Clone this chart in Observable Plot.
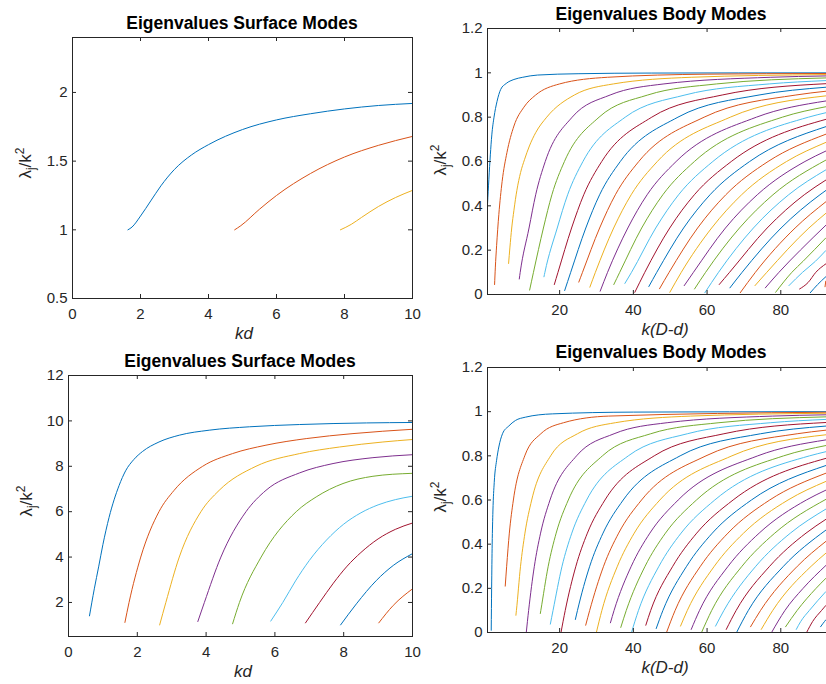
<!DOCTYPE html>
<html><head><meta charset="utf-8">
<script src="https://cdn.jsdelivr.net/npm/d3@7"></script>
<script src="https://cdn.jsdelivr.net/npm/@observablehq/plot@0.6"></script>
<style>
html,body{margin:0;padding:0;background:#fff;overflow:hidden}
#wrap{position:relative;width:826px;height:684px;overflow:hidden;background:#fff}
#wrap svg{position:absolute;left:0;top:0}
</style></head><body><div id="wrap"></div>
<script>
const colors = ["#0072BD","#D95319","#EDB120","#7E2F8E","#77AC30","#4DBEEE","#A2142F"];

const titleSurface = "Eigenvalues Surface Modes";
const titleBody = "Eigenvalues Body Modes";
const labelSurface = "kd";
const labelBody = "k(D-d)";

const surfTicksX = [0,2,4,6,8,10];
const surfTopTicksY = [0.5,1,1.5,2];
const surfBotTicksY = [2,4,6,8,10,12];
const bodyTicksX = [20,40,60,80];
const bodyTicksY = [0,0.2,0.4,0.6,0.8,1,1.2];

// top-left: surface modes (3 curves)
const surfTop = [
 [[1.63,1.0],[1.75,1.02],[2.0,1.1],[2.3,1.21],[2.6,1.32],[3.0,1.44],[3.5,1.545],[4.0,1.62],[5.0,1.73],[6.0,1.80],[7.0,1.845],[8.0,1.88],[9.0,1.905],[10.0,1.92]],
 [[4.77,1.0],[4.95,1.03],[5.5,1.15],[6.0,1.25],[7.0,1.41],[8.0,1.53],[9.0,1.615],[10.0,1.68]],
 [[7.88,1.0],[8.2,1.04],[8.5,1.09],[9.0,1.17],[9.5,1.235],[10.0,1.287]]
];

// bottom-left: surface modes (9 curves)
const surfBot = [
 [[0.61,1.41],[0.75,2.6],[0.88,3.6],[1.0,4.55],[1.18,5.75],[1.47,7.15],[1.66,7.8],[1.9,8.3],[2.15,8.65],[2.63,9.07],[3.22,9.37],[4.09,9.59],[5.26,9.74],[6.72,9.84],[8.66,9.91],[10,9.93]],
 [[1.64,1.12],[1.76,2.0],[2.10,4.0],[2.63,6.0],[3.07,6.94],[3.90,8.0],[4.77,8.56],[5.74,8.93],[6.91,9.22],[8.27,9.44],[10,9.63]],
 [[2.65,1.01],[2.83,2.0],[3.22,4.0],[3.85,6.0],[4.38,6.94],[5.45,8.0],[6.72,8.56],[7.88,8.85],[9.14,9.07],[10,9.18]],
 [[3.76,1.16],[3.95,2],[4.43,4],[5.16,6],[5.74,6.94],[6.72,7.71],[7.69,8.12],[8.85,8.38],[10,8.51]],
 [[4.77,1.06],[4.97,2],[5.60,4],[6.62,6],[7.20,6.65],[7.98,7.24],[8.85,7.56],[10,7.69]],
 [[5.88,1.18],[6.23,2.0],[6.6,2.95],[7.0,3.85],[7.5,4.75],[8.0,5.45],[8.5,5.95],[9.0,6.3],[9.5,6.53],[10,6.68]],
 [[6.89,1.10],[7.3,2.0],[7.7,2.85],[8.1,3.6],[8.5,4.2],[9.0,4.8],[9.5,5.22],[10,5.5]],
 [[7.91,1.01],[8.37,1.94],[8.95,2.97],[9.44,3.63],[10,4.15]],
 [[9.02,1.10],[9.44,1.87],[10,2.60]]
];

// top-right: body modes
const bodyTop = [
 [[0.44,0.41],[0.8,0.52],[1.2,0.63],[1.6,0.72],[2.2,0.8],[3.0,0.87],[4.0,0.925],[5.5,0.952],[7.6,0.97],[10,0.98],[14,0.99],[25,0.996],[45,0.999],[92.2,1.0]],
 [[2.35,0.045],[2.55,0.12],[2.9,0.22],[3.5,0.36],[4.4,0.51],[5.7,0.64],[7.6,0.76],[10.3,0.845],[13.5,0.9],[20,0.95],[33,0.98],[60,0.994],[92.2,0.997]],
 [[6.15,0.14],[6.5,0.21],[7.0,0.3],[7.6,0.38],[8.4,0.47],[9.4,0.55],[10.5,0.61],[11.8,0.67],[13.5,0.73],[16.5,0.8],[24,0.9],[34.6,0.95],[55.7,0.98],[92.2,0.992]],
 [[9.05,0.07],[9.3,0.1],[11.7,0.3],[13.5,0.45],[16.1,0.6],[23.4,0.8],[33.7,0.9],[48.3,0.95],[77.3,0.98],[92.2,0.986]],
 [[11.86,0.02],[12.9,0.1],[15.6,0.3],[17.9,0.45],[21.3,0.6],[30.7,0.8],[43.9,0.9],[62.6,0.95],[92.2,0.977]],
 [[15.75,0.08],[16.0,0.1],[19.35,0.3],[22.17,0.45],[26.32,0.6],[37.8,0.8],[54.0,0.9],[76.9,0.95],[92.2,0.965]],
 [[18.56,0.045],[19.55,0.1],[23.24,0.3],[26.54,0.45],[31.42,0.6],[45.0,0.8],[64.1,0.9],[92.2,0.951]],
 [[21.37,0.018],[23.0,0.1],[27.1,0.3],[30.85,0.45],[36.46,0.6],[52.1,0.8],[74.1,0.9],[92.2,0.935]],
 [[25.2,0.056],[26.2,0.1],[30.85,0.3],[35.12,0.45],[41.47,0.6],[59.2,0.8],[84.1,0.9],[92.2,0.917]],
 [[28.2,0.033],[29.7,0.1],[34.66,0.3],[39.41,0.45],[46.5,0.6],[66.3,0.8],[92.2,0.896]],
 [[31.0,0.015],[33.0,0.1],[38.5,0.3],[43.74,0.45],[51.6,0.6],[73.4,0.8],[92.2,0.873]],
 [[34.7,0.045],[36.3,0.1],[42.26,0.3],[48.0,0.45],[56.56,0.6],[80.43,0.8],[92.2,0.847]],
 [[37.7,0.05],[39.5,0.1],[46.07,0.3],[52.27,0.45],[61.56,0.6],[87.5,0.8],[92.2,0.82]],
 [[40.4,0.01],[43.1,0.1],[49.87,0.3],[56.55,0.45],[66.57,0.6],[92.2,0.79]],
 [[44.2,0.036],[46.35,0.1],[53.63,0.3],[60.8,0.45],[71.55,0.6],[92.2,0.757]],
 [[47.1,0.026],[49.7,0.1],[57.43,0.3],[65.08,0.45],[76.55,0.6],[92.2,0.723]],
 [[49.9,0.01],[53.0,0.1],[61.24,0.3],[69.37,0.45],[81.56,0.6],[92.2,0.686]],
 [[53.8,0.04],[56.3,0.1],[64.99,0.3],[73.62,0.45],[86.55,0.6],[92.2,0.647]],
 [[56.6,0.025],[59.6,0.1],[68.79,0.3],[77.88,0.45],[92.2,0.606]],
 [[59.4,0.008],[63.1,0.1],[72.57,0.3],[82.13,0.45],[92.2,0.562]],
 [[63.3,0.045],[66.1,0.1],[76.3,0.3],[86.37,0.45],[92.2,0.516]],
 [[66.2,0.03],[69.5,0.1],[80.07,0.3],[90.63,0.45],[92.2,0.469]],
 [[69.0,0.008],[73.1,0.1],[83.88,0.3],[92.2,0.418]],
 [[73.0,0.04],[76.2,0.1],[87.63,0.3],[92.2,0.366]],
 [[75.8,0.03],[79.5,0.1],[85.3,0.2],[92.2,0.312]],
 [[78.6,0.01],[83.0,0.1],[86.05,0.15],[92.2,0.255]],
 [[82.2,0.04],[85.9,0.1],[89.4,0.15],[92.2,0.198]],
 [[85.1,0.025],[87.4,0.054],[89.5,0.1],[92.2,0.138]],
 [[88.0,0.008],[90.0,0.045],[92.2,0.08]],
 [[92.0,0.035],[92.2,0.06]]
];

// bottom-right: body modes
const bodyBot = [
 [[1.44,0.01],[1.55,0.2],[1.7,0.4],[1.9,0.55],[2.26,0.68],[2.9,0.78],[3.5,0.84],[4.5,0.9],[6.2,0.935],[8,0.96],[10.7,0.975],[18,0.99],[40,0.998],[92.2,1.0]],
 [[5.24,0.21],[5.63,0.3],[6.354,0.45],[7.45,0.6],[10.54,0.8],[14.9,0.9],[21.07,0.95],[33.32,0.98],[92.2,0.9974]],
 [[8.14,0.078],[8.28,0.1],[9.39,0.3],[10.59,0.45],[12.42,0.6],[17.56,0.8],[24.84,0.9],[35.12,0.95],[55.54,0.98],[92.2,0.9927]],
 [[10.95,0],[11.59,0.1],[13.14,0.3],[14.83,0.45],[17.39,0.6],[24.59,0.8],[34.77,0.9],[49.18,0.95],[77.75,0.98],[92.2,0.9858]],
 [[14.76,0.086],[14.9,0.1],[16.9,0.3],[19.06,0.45],[22.35,0.6],[31.61,0.8],[44.71,0.9],[63.22,0.95],[92.2,0.9765]],
 [[17.48,0.038],[18.21,0.1],[20.65,0.3],[23.3,0.45],[27.32,0.6],[38.64,0.8],[54.64,0.9],[77.27,0.95],[92.2,0.9649]],
 [[20.37,0],[21.52,0.1],[24.41,0.3],[27.53,0.45],[32.29,0.6],[45.66,0.8],[64.57,0.9],[92.2,0.9509]],
 [[24.27,0.059],[24.84,0.1],[28.16,0.3],[31.77,0.45],[37.25,0.6],[52.69,0.8],[74.51,0.9],[92.2,0.9347]],
 [[27.07,0.033],[28.15,0.1],[31.92,0.3],[36.01,0.45],[42.22,0.6],[59.71,0.8],[84.45,0.9],[92.2,0.9161]],
 [[29.97,0],[31.46,0.1],[35.67,0.3],[40.24,0.45],[47.19,0.6],[66.74,0.8],[92.2,0.8952]],
 [[33.78,0.044],[34.77,0.1],[39.43,0.3],[44.48,0.45],[52.16,0.6],[73.76,0.8],[92.2,0.872]],
 [[36.59,0.023],[38.08,0.1],[43.18,0.3],[48.71,0.45],[57.12,0.6],[80.78,0.8],[92.2,0.8465]],
 [[39.49,0],[41.39,0.1],[46.94,0.3],[52.95,0.45],[62.09,0.6],[87.81,0.8],[92.2,0.8186]],
 [[43.38,0.033],[44.71,0.1],[50.69,0.3],[57.19,0.45],[67.06,0.6],[92.2,0.7884]],
 [[46.2,0.018],[48.02,0.1],[54.45,0.3],[61.42,0.45],[72.03,0.6],[92.2,0.7559]],
 [[49.0,0],[51.33,0.1],[58.2,0.3],[65.66,0.45],[76.99,0.6],[92.2,0.7211]],
 [[52.8,0.029],[54.64,0.1],[61.96,0.3],[69.9,0.45],[81.96,0.6],[92.2,0.6839]],
 [[55.7,0.014],[57.95,0.1],[65.71,0.3],[74.13,0.45],[86.93,0.6],[92.2,0.6444]],
 [[58.5,0],[61.26,0.1],[69.47,0.3],[78.37,0.45],[92.2,0.6026]],
 [[62.3,0.029],[64.57,0.1],[73.22,0.3],[82.6,0.45],[92.2,0.5585]],
 [[65.2,0.014],[67.89,0.1],[76.98,0.3],[86.84,0.45],[92.2,0.5121]],
 [[68.0,0],[71.2,0.1],[80.73,0.3],[92.2,0.4633]],
 [[71.8,0.026],[74.51,0.1],[84.49,0.3],[92.2,0.4122]],
 [[74.7,0.014],[77.82,0.1],[88.24,0.3],[92.2,0.3588]],
 [[77.5,0],[81.13,0.1],[86.05,0.2],[92.2,0.3031]],
 [[81.3,0.026],[84.44,0.1],[89.57,0.2],[92.2,0.245]],
 [[84.2,0.014],[85.41,0.05],[87.76,0.1],[92.2,0.1847]],
 [[87.0,0],[88.64,0.05],[91.07,0.1],[92.2,0.122]],
 [[90.8,0.026],[91.5,0.042],[92.2,0.057]]
];

const FONT = "'Liberation Sans', Arial, Helvetica, sans-serif";
const AX = "#262626";
const W = 826, H = 684;
const wrap = document.getElementById("wrap");
const fmt = d => String(d);

function panel(curves, o) {
  const iw = o.right - o.left, ih = o.bottom - o.top, tk = 4;
  const marks = curves.map((pts, i) => Plot.line(pts, {
    x: d => d[0], y: d => d[1], stroke: colors[i % 7], strokeWidth: 1, curve: "monotone-x"
  }));
  marks.push(
    Plot.ruleX(o.xTicks, {x: d => d, insetTop: ih - tk, stroke: AX}),
    Plot.ruleX(o.xTicks, {x: d => d, insetBottom: ih - tk, stroke: AX}),
    Plot.ruleY(o.yTicks, {y: d => d, insetRight: iw - tk, stroke: AX})
  );
  if (o.rightTicks) marks.push(Plot.ruleY(o.yTicks, {y: d => d, insetLeft: iw - tk, stroke: AX}));
  marks.push(
    Plot.frame({stroke: AX, strokeWidth: 1}),
    Plot.axisX(o.xTicks, {tickSize: 0, tickPadding: 10, label: null, tickFormat: fmt}),
    Plot.axisY(o.yTicks, {tickSize: 0, tickPadding: 5, label: null, tickFormat: fmt})
  );
  const svg = Plot.plot({
    width: W, height: H,
    marginLeft: o.left, marginRight: W - o.right, marginTop: o.top, marginBottom: H - o.bottom,
    x: {domain: o.xDomain}, y: {domain: o.yDomain},
    style: {background: "transparent", fontFamily: FONT, fontSize: "15px", color: AX, overflow: "hidden"},
    marks
  });
  wrap.appendChild(svg);
}

panel(surfTop, {left: 72, right: 412, top: 37, bottom: 298, xDomain: [0, 10], yDomain: [0.5, 2.4], xTicks: surfTicksX, yTicks: surfTopTicksY, rightTicks: true});
panel(surfBot, {left: 68, right: 412, top: 375, bottom: 636, xDomain: [0, 10], yDomain: [0.5, 12], xTicks: surfTicksX, yTicks: surfBotTicksY, rightTicks: true});
panel(bodyTop, {left: 487, right: 826, top: 28, bottom: 294, xDomain: [0.43, 92.4], yDomain: [0, 1.2], xTicks: bodyTicksX, yTicks: bodyTicksY, rightTicks: false});
panel(bodyBot, {left: 487, right: 826, top: 367, bottom: 632, xDomain: [0.43, 92.4], yDomain: [0, 1.2], xTicks: bodyTicksX, yTicks: bodyTicksY, rightTicks: false});

// titles and axis labels
const ov = d3.select(wrap).append("svg").attr("width", W).attr("height", H).style("font-family", FONT);
function title(t, x, y) {
  ov.append("text").attr("x", x).attr("y", y).attr("text-anchor", "middle")
    .attr("font-weight", "bold").attr("font-size", 17.5).attr("fill", "#000").text(t);
}
function xlab(t, x, y) {
  ov.append("text").attr("x", x).attr("y", y).attr("text-anchor", "middle")
    .attr("font-style", "italic").attr("font-size", 17).attr("fill", AX).text(t);
}
function ylab(x, y) {
  const t = ov.append("text").attr("transform", `translate(${x},${y}) rotate(-90)`)
    .attr("text-anchor", "middle").attr("font-size", 17).attr("fill", AX);
  t.append("tspan").text("λ");
  t.append("tspan").attr("dy", 4).attr("font-size", 12).text("j");
  t.append("tspan").attr("dy", -4).text("/k");
  t.append("tspan").attr("dy", -7).attr("font-size", 12).text("2");
}
title(titleSurface, 242, 29);
title(titleSurface, 240, 366.5);
title(titleBody, 661, 19.5);
title(titleBody, 661, 357.5);
xlab(labelSurface, 244, 338.5);
xlab(labelSurface, 243, 676.5);
xlab(labelBody, 665, 335);
xlab(labelBody, 665, 673);
ylab(30.5, 163);
ylab(31.5, 501);
ylab(446, 160);
ylab(446, 497);
</script>
</body></html>
